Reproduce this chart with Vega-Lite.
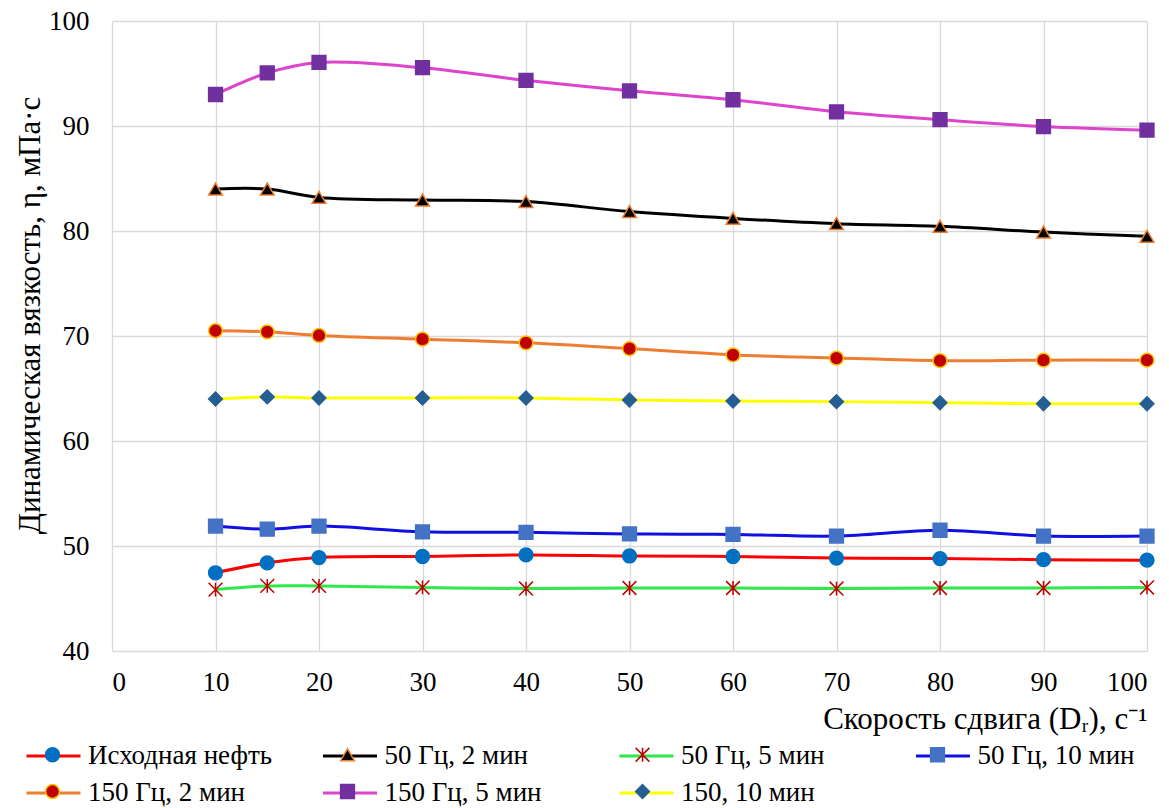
{
  "$schema": "https://vega.github.io/schema/vega-lite/v6.json",
  "autosize": {"type": "none"},
  "padding": {"left": 112, "top": 21, "right": 22, "bottom": 157},
  "width": 1035,
  "height": 630,
  "background": "white",
  "config": {
    "view": {"stroke": null},
    "font": "Liberation Serif",
    "axis": {
      "grid": true, "gridColor": "#d9d9d9", "gridWidth": 1.3, "domain": false, "ticks": false, "tickSize": 0,
      "labelFont": "Liberation Serif", "labelFontSize": 27, "labelColor": "#000000",
      "titleFont": "Liberation Serif", "titleFontSize": 31, "titleFontWeight": "normal", "titleColor": "#000000"
    },
    "legend": {"labelFont": "Liberation Serif"}
  },
  "resolve": {"legend": {"color": "independent", "fill": "independent", "shape": "independent", "stroke": "independent"}},
  "data": {"values": [
    {"x": 10, "y": 47.45, "s": "Исходная нефть"},
    {"x": 15, "y": 48.4, "s": "Исходная нефть"},
    {"x": 20, "y": 48.9, "s": "Исходная нефть"},
    {"x": 30, "y": 49.0, "s": "Исходная нефть"},
    {"x": 40, "y": 49.15, "s": "Исходная нефть"},
    {"x": 50, "y": 49.05, "s": "Исходная нефть"},
    {"x": 60, "y": 49.0, "s": "Исходная нефть"},
    {"x": 70, "y": 48.85, "s": "Исходная нефть"},
    {"x": 80, "y": 48.8, "s": "Исходная нефть"},
    {"x": 90, "y": 48.7, "s": "Исходная нефть"},
    {"x": 100, "y": 48.65, "s": "Исходная нефть"},
    {"x": 10, "y": 84.0, "s": "50 Гц, 2 мин"},
    {"x": 15, "y": 84.0, "s": "50 Гц, 2 мин"},
    {"x": 20, "y": 83.2, "s": "50 Гц, 2 мин"},
    {"x": 30, "y": 82.95, "s": "50 Гц, 2 мин"},
    {"x": 40, "y": 82.8, "s": "50 Гц, 2 мин"},
    {"x": 50, "y": 81.85, "s": "50 Гц, 2 мин"},
    {"x": 60, "y": 81.2, "s": "50 Гц, 2 мин"},
    {"x": 70, "y": 80.7, "s": "50 Гц, 2 мин"},
    {"x": 80, "y": 80.45, "s": "50 Гц, 2 мин"},
    {"x": 90, "y": 79.9, "s": "50 Гц, 2 мин"},
    {"x": 100, "y": 79.5, "s": "50 Гц, 2 мин"},
    {"x": 10, "y": 45.85, "s": "50 Гц, 5 мин"},
    {"x": 15, "y": 46.2, "s": "50 Гц, 5 мин"},
    {"x": 20, "y": 46.2, "s": "50 Гц, 5 мин"},
    {"x": 30, "y": 46.05, "s": "50 Гц, 5 мин"},
    {"x": 40, "y": 45.95, "s": "50 Гц, 5 мин"},
    {"x": 50, "y": 46.0, "s": "50 Гц, 5 мин"},
    {"x": 60, "y": 46.0, "s": "50 Гц, 5 мин"},
    {"x": 70, "y": 45.95, "s": "50 Гц, 5 мин"},
    {"x": 80, "y": 46.0, "s": "50 Гц, 5 мин"},
    {"x": 90, "y": 46.0, "s": "50 Гц, 5 мин"},
    {"x": 100, "y": 46.05, "s": "50 Гц, 5 мин"},
    {"x": 10, "y": 51.9, "s": "50 Гц, 10 мин"},
    {"x": 15, "y": 51.6, "s": "50 Гц, 10 мин"},
    {"x": 20, "y": 51.9, "s": "50 Гц, 10 мин"},
    {"x": 30, "y": 51.35, "s": "50 Гц, 10 мин"},
    {"x": 40, "y": 51.3, "s": "50 Гц, 10 мин"},
    {"x": 50, "y": 51.15, "s": "50 Гц, 10 мин"},
    {"x": 60, "y": 51.1, "s": "50 Гц, 10 мин"},
    {"x": 70, "y": 50.95, "s": "50 Гц, 10 мин"},
    {"x": 80, "y": 51.5, "s": "50 Гц, 10 мин"},
    {"x": 90, "y": 50.95, "s": "50 Гц, 10 мин"},
    {"x": 100, "y": 50.95, "s": "50 Гц, 10 мин"},
    {"x": 10, "y": 70.5, "s": "150 Гц, 2 мин"},
    {"x": 15, "y": 70.4, "s": "150 Гц, 2 мин"},
    {"x": 20, "y": 70.05, "s": "150 Гц, 2 мин"},
    {"x": 30, "y": 69.7, "s": "150 Гц, 2 мин"},
    {"x": 40, "y": 69.35, "s": "150 Гц, 2 мин"},
    {"x": 50, "y": 68.8, "s": "150 Гц, 2 мин"},
    {"x": 60, "y": 68.2, "s": "150 Гц, 2 мин"},
    {"x": 70, "y": 67.9, "s": "150 Гц, 2 мин"},
    {"x": 80, "y": 67.65, "s": "150 Гц, 2 мин"},
    {"x": 90, "y": 67.7, "s": "150 Гц, 2 мин"},
    {"x": 100, "y": 67.7, "s": "150 Гц, 2 мин"},
    {"x": 10, "y": 93.0, "s": "150 Гц, 5 мин"},
    {"x": 15, "y": 95.05, "s": "150 Гц, 5 мин"},
    {"x": 20, "y": 96.05, "s": "150 Гц, 5 мин"},
    {"x": 30, "y": 95.55, "s": "150 Гц, 5 мин"},
    {"x": 40, "y": 94.35, "s": "150 Гц, 5 мин"},
    {"x": 50, "y": 93.35, "s": "150 Гц, 5 мин"},
    {"x": 60, "y": 92.5, "s": "150 Гц, 5 мин"},
    {"x": 70, "y": 91.35, "s": "150 Гц, 5 мин"},
    {"x": 80, "y": 90.6, "s": "150 Гц, 5 мин"},
    {"x": 90, "y": 89.95, "s": "150 Гц, 5 мин"},
    {"x": 100, "y": 89.6, "s": "150 Гц, 5 мин"},
    {"x": 10, "y": 64.0, "s": "150, 10 мин"},
    {"x": 15, "y": 64.2, "s": "150, 10 мин"},
    {"x": 20, "y": 64.1, "s": "150, 10 мин"},
    {"x": 30, "y": 64.1, "s": "150, 10 мин"},
    {"x": 40, "y": 64.1, "s": "150, 10 мин"},
    {"x": 50, "y": 63.9, "s": "150, 10 мин"},
    {"x": 60, "y": 63.8, "s": "150, 10 мин"},
    {"x": 70, "y": 63.75, "s": "150, 10 мин"},
    {"x": 80, "y": 63.65, "s": "150, 10 мин"},
    {"x": 90, "y": 63.55, "s": "150, 10 мин"},
    {"x": 100, "y": 63.55, "s": "150, 10 мин"}
  ]},
  "encoding": {
    "x": {"field": "x", "type": "quantitative", "scale": {"domain": [0, 100], "nice": false},
      "axis": {"values": [0,10,20,30,40,50,60,70,80,90,100], "labelPadding": 18,
        "labelFont": "Liberation Serif", "titleFont": "Liberation Serif",
        "title": "Скорость сдвига (Dᵣ), с⁻¹", "titleAnchor": null, "titleX": 1035, "titleY": 77,
        "titleAlign": "right", "titleBaseline": "alphabetic"}},
    "y": {"field": "y", "type": "quantitative", "scale": {"domain": [40, 100], "nice": false, "zero": false},
      "axis": {"values": [40,50,60,70,80,90,100], "labelPadding": 23,
        "labelFont": "Liberation Serif", "titleFont": "Liberation Serif",
        "title": "Динамическая вязкость, η, мПа·с", "titleAnchor": null, "titleX": -82, "titleY": 294,
        "titleAngle": -90, "titleAlign": "center", "titleBaseline": "middle", "titleFontSize": 31}}
  },
  "layer": [
    {
      "mark": {"type": "line", "interpolate": "catmull-rom", "strokeWidth": 3},
      "encoding": {
        "color": {"field": "s", "type": "nominal",
          "scale": {"domain": ["Исходная нефть", "50 Гц, 2 мин", "50 Гц, 5 мин", "50 Гц, 10 мин", "150 Гц, 2 мин", "150 Гц, 5 мин", "150, 10 мин"],
            "range": ["#ff0000", "#000000", "#2ee84a", "#1010e0", "#ed7d31", "#dd44cc", "#ffff00"]},
          "legend": {"orient": "none", "legendX": -73.5, "legendY": 720, "direction": "horizontal", "columns": 4, "title": null,
            "symbolType": "M-2,0L2,0", "symbolSize": 729, "symbolStrokeWidth": 3,
            "labelFont": "Liberation Serif", "labelFontSize": 27, "labelColor": "#000000", "labelOffset": 19.5, "labelLimit": 400,
            "columnPadding": 44.5, "rowPadding": 9, "gridAlign": "all", "padding": 0}}
      }
    },
    {
      "mark": {"type": "point", "filled": true, "opacity": 1, "size": 190, "strokeWidth": 1.5},
      "encoding": {
        "fill": {"field": "s", "type": "nominal",
          "scale": {"domain": ["Исходная нефть", "50 Гц, 2 мин", "50 Гц, 5 мин", "50 Гц, 10 мин", "150 Гц, 2 мин", "150 Гц, 5 мин", "150, 10 мин"],
            "range": ["#0070c0", "#000000", "#c00000", "#4472c4", "#c00000", "#7030a0", "#255e91"]},
          "legend": {"orient": "none", "legendX": -73, "legendY": 720, "direction": "horizontal", "columns": 4, "title": null,
            "symbolSize": 190, "symbolStrokeWidth": 1.5,
            "labelFont": "Liberation Serif", "labelFontSize": 27, "labelColor": "#000000", "labelExpr": "''", "labelOffset": 6, "labelLimit": 400,
            "columnPadding": 262, "rowPadding": 9, "gridAlign": "all", "padding": 0}},
        "stroke": {"field": "s", "type": "nominal",
          "scale": {"domain": ["Исходная нефть", "50 Гц, 2 мин", "50 Гц, 5 мин", "50 Гц, 10 мин", "150 Гц, 2 мин", "150 Гц, 5 мин", "150, 10 мин"],
            "range": ["#0070c0", "#ed7d31", "#c00000", "#4472c4", "#ffc000", "#7030a0", "#255e91"]}},
        "shape": {"field": "s", "type": "nominal",
          "scale": {"domain": ["Исходная нефть", "50 Гц, 2 мин", "50 Гц, 5 мин", "50 Гц, 10 мин", "150 Гц, 2 мин", "150 Гц, 5 мин", "150, 10 мин"],
            "range": ["circle", "triangle-up", "M-1,-1L1,1M-1,1L1,-1M0,-1L0,1", "square", "circle", "square", "diamond"]}}
      }
    }
  ]
}
